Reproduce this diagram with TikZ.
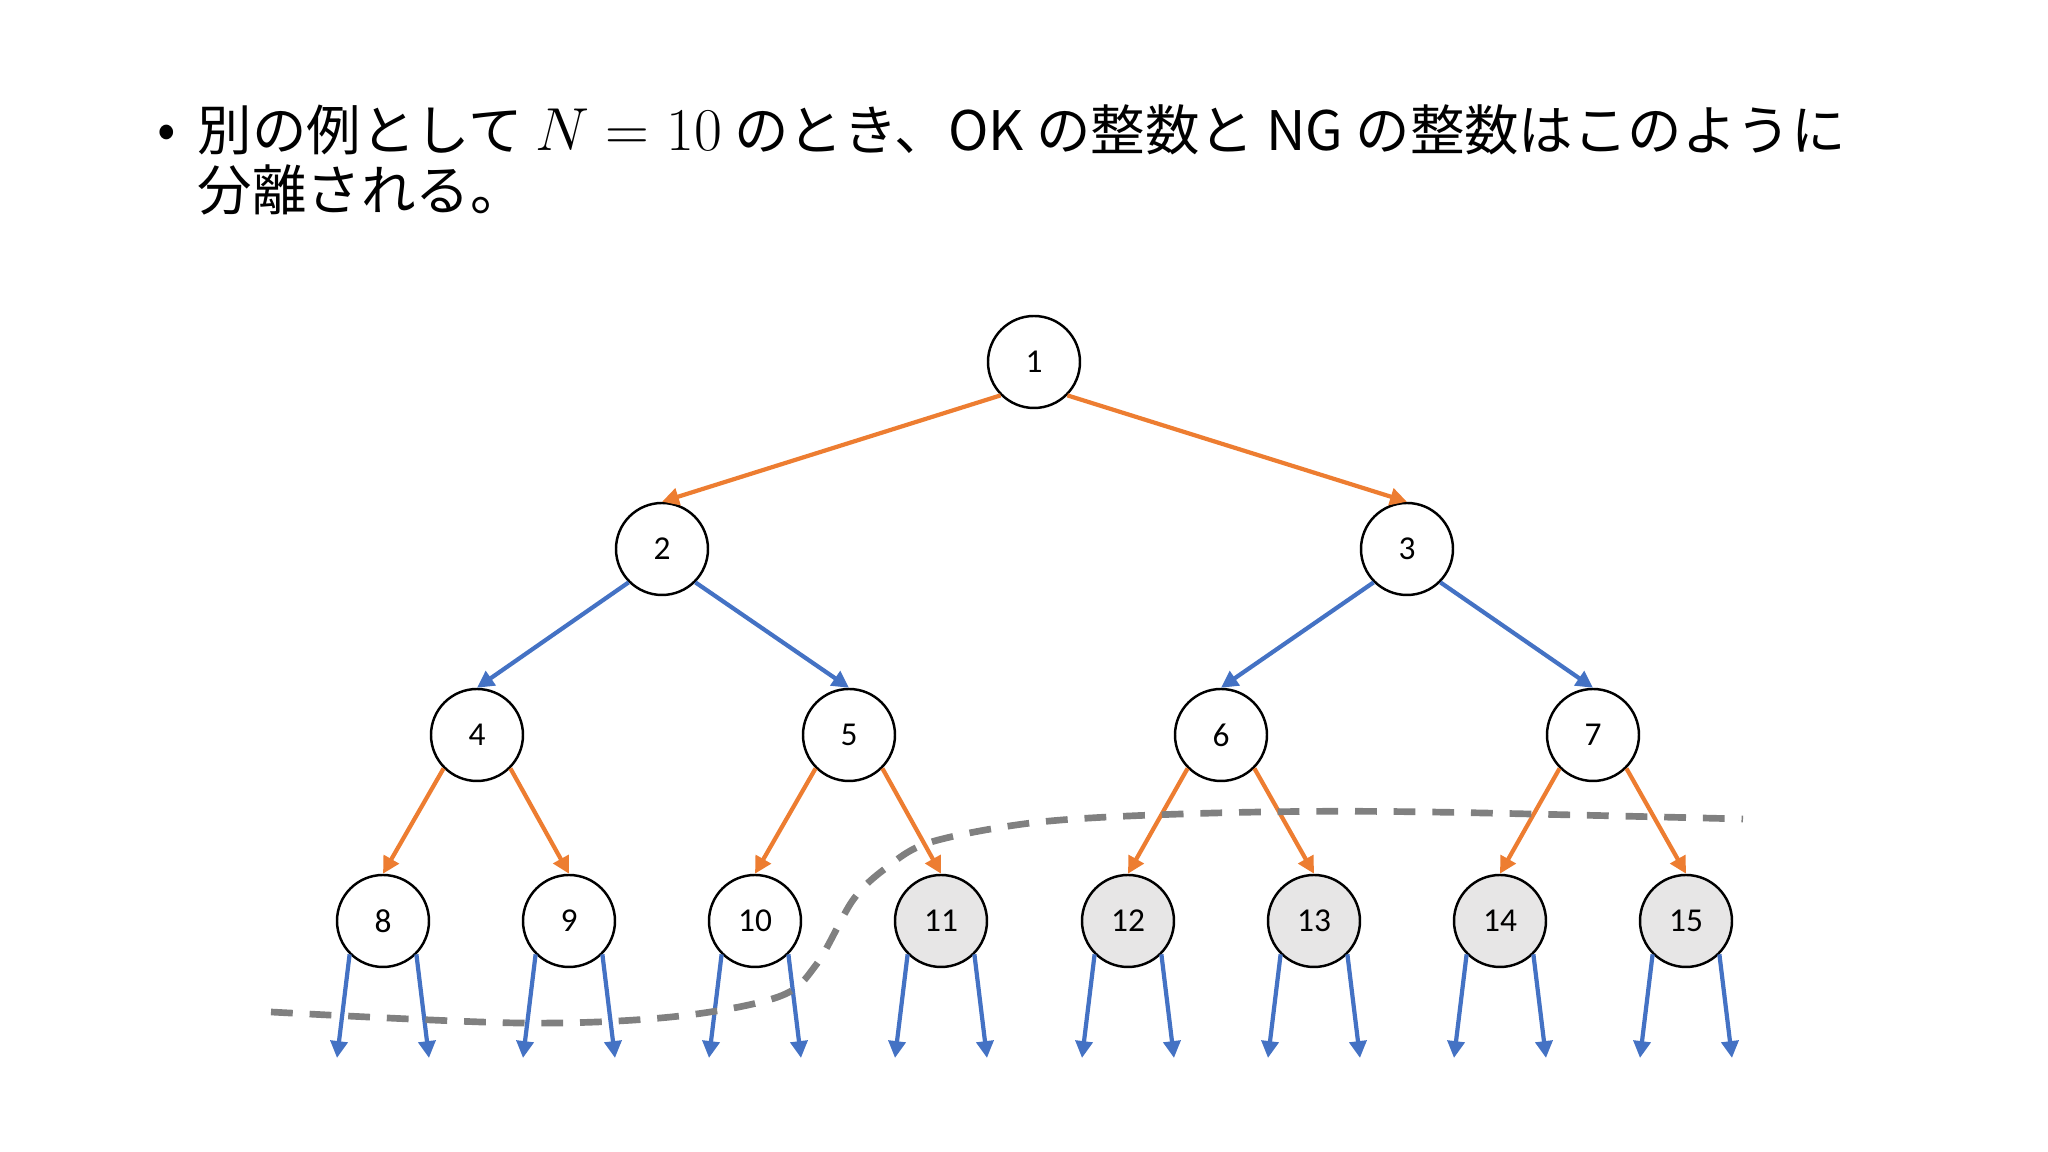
\documentclass[tikz,border=0pt]{standalone}
\usepackage[no-math]{fontspec}
\setmainfont{Carlito}
\newfontfamily\jafont{Noto Sans CJK JP}
\usetikzlibrary{arrows.meta}
\definecolor{okorange}{RGB}{237,125,49}
\definecolor{edgeblue}{RGB}{68,114,196}
\definecolor{nggray}{RGB}{231,230,230}
\definecolor{cutgray}{RGB}{128,128,128}
\tikzset{
  num/.style        = {circle,draw,line width=0.7pt,minimum size=0.92cm,inner sep=0pt,fill=white,font=\fontsize{9.5}{11}\selectfont},
  ng/.style         = {num,fill=nggray},
  orange edge/.style = {line width=1.2pt,okorange,-{Triangle[length=4.8pt,width=4.8pt]}},
  blue edge/.style   = {line width=1.2pt,edgeblue,-{Triangle[length=4.8pt,width=4.8pt]}},
  cut/.style        = {line width=1.9pt,cutgray,dash pattern=on 6.2pt off 4.8pt},
  title/.style      = {anchor=base west,inner sep=0pt,font=\jafont\fontsize{15.5}{19}\selectfont},
}

\begin{document}
\begin{tikzpicture}
    \useasboundingbox (0,0) rectangle (20.48,11.52);
    % title
    \node[title,anchor=center] (dot) at (1.67,10.15) {•};
    \node[title] (line1) at (1.97,10.01) {別の例として {\fontsize{17.5}{19}\selectfont$N = 10$} のとき、OK の整数と NG の整数はこのように};
    \node[title] (line2) at (1.97,9.41) {分離される。};
    % tree
    \node[num] (n1) at (10.34,7.90) {1};
    \node[num] (n2) at (6.62,6.03) {2};
    \node[num] (n3) at (14.07,6.03) {3};
    \foreach \k/\x in {4/4.77,5/8.49,6/12.21,7/15.93} {
        \node[num] (n\k) at (\x,4.17) {\k};
    }
    \foreach \k/\x/\s in {8/3.83/num,9/5.69/num,10/7.55/num,11/9.41/ng,12/11.28/ng,13/13.14/ng,14/15.00/ng,15/16.86/ng} {
        \node[\s] (n\k) at (\x,2.31) {\k};
        \coordinate (l\k) at (\x-0.46,0.94);
        \coordinate (r\k) at (\x+0.46,0.94);
        \draw[blue edge] (n\k.south west) -- (l\k);
        \draw[blue edge] (n\k.south east) -- (r\k);
    }
    \foreach \p [evaluate=\p as \l using int(2*\p), evaluate=\p as \r using int(2*\p+1)] in {1,4,5,6,7} {
        \draw[orange edge] (n\p.south west) -- (n\l.north);
        \draw[orange edge] (n\p.south east) -- (n\r.north);
    }
    \foreach \p [evaluate=\p as \l using int(2*\p), evaluate=\p as \r using int(2*\p+1)] in {2,3} {
        \draw[blue edge] (n\p.south west) -- (n\l.north);
        \draw[blue edge] (n\p.south east) -- (n\r.north);
    }
    % OK / NG border
    \draw[cut] plot[smooth,tension=0.55] coordinates {(2.71,1.40) (5.18,1.29) (6.71,1.35) (7.78,1.55) (8.16,1.87) (8.53,2.52) (8.86,2.84) (9.28,3.09) (10.16,3.27) (11.08,3.35) (12.61,3.40) (14.29,3.40) (17.43,3.33)};
\end{tikzpicture}
\end{document}
